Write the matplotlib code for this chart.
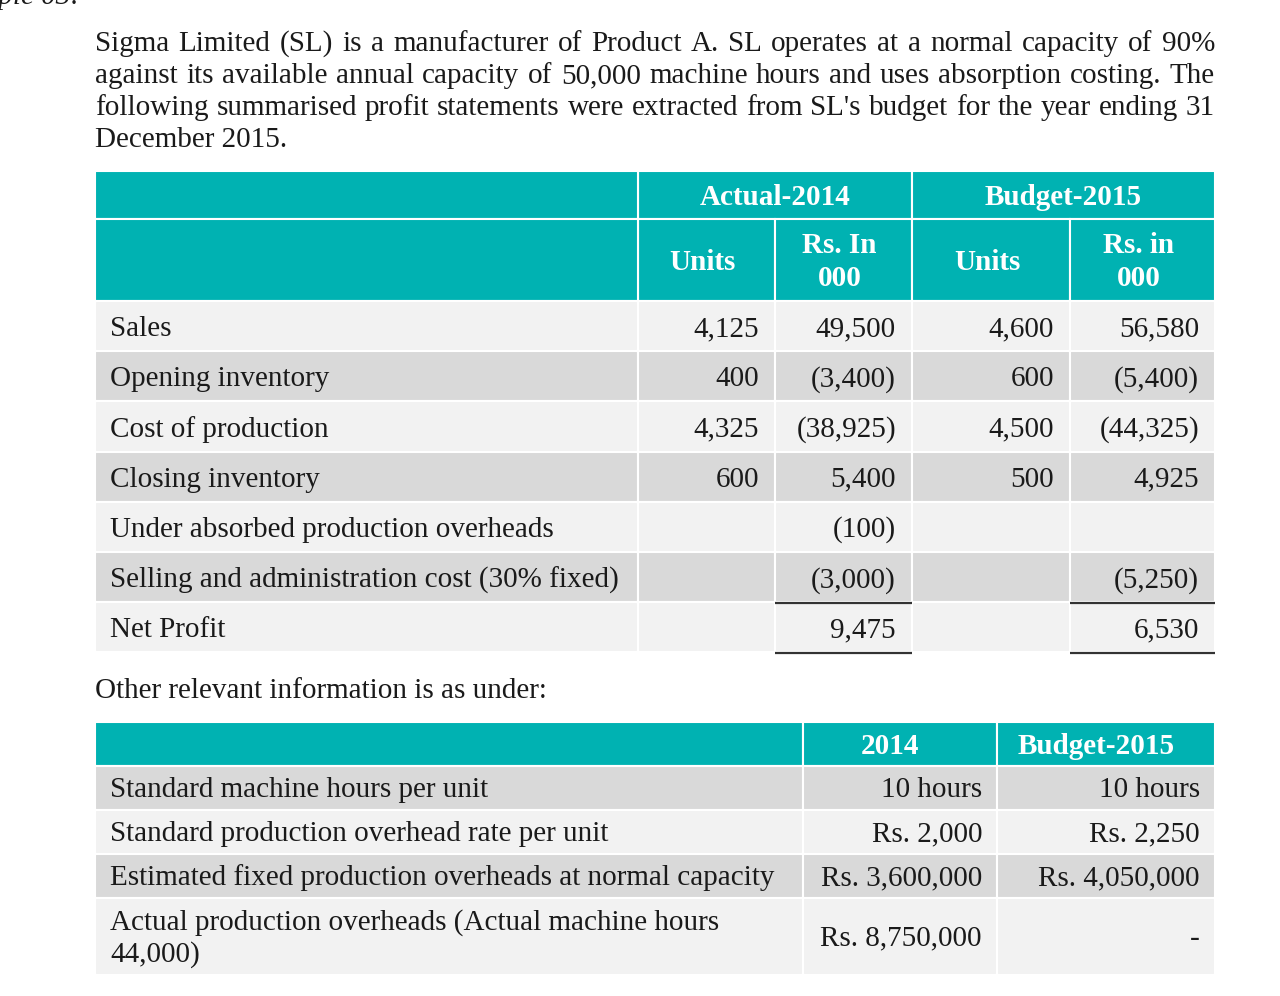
import matplotlib.pyplot as plt
from matplotlib.patches import Rectangle

# paragraph text
intro_lines = [
    "Sigma Limited (SL) is a manufacturer of Product A. SL operates at a normal capacity of 90%",
    "against its available annual capacity of 50,000 machine hours and uses absorption costing. The",
    "following summarised profit statements were extracted from SL's budget for the year ending 31",
    "December 2015.",
]

# profit statement table
row_labels = ["Sales", "Opening inventory", "Cost of production", "Closing inventory",
              "Under absorbed production overheads",
              "Selling and administration cost (30% fixed)", "Net Profit"]
actual_units = ["4,125", "400", "4,325", "600", "", "", ""]
actual_rs = ["49,500", "(3,400)", "(38,925)", "5,400", "(100)", "(3,000)", "9,475"]
budget_units = ["4,600", "600", "4,500", "500", "", "", ""]
budget_rs = ["56,580", "(5,400)", "(44,325)", "4,925", "", "(5,250)", "6,530"]
group_headers = ["Actual-2014", "Budget-2015"]
sub_headers = ["Units", "Rs. In\n000", "Units", "Rs. in\n000"]

# other information table
info_headers = ["2014", "Budget-2015"]
info_labels = ["Standard machine hours per unit",
               "Standard production overhead rate per unit",
               "Estimated fixed production overheads at normal capacity",
               "Actual production overheads (Actual machine hours\n44,000)"]
info_2014 = ["10 hours", "Rs. 2,000", "Rs. 3,600,000", "Rs. 8,750,000"]
info_2015 = ["10 hours", "Rs. 2,250", "Rs. 4,050,000", "-"]

W, H = 1280, 996
FONT = "Liberation Serif"
FS = 21
TEAL = "#00b2b2"
LIGHT = "#f2f2f2"
DARK = "#d9d9d9"
INK = "#1a1a1a"

fig = plt.figure(figsize=(12.8, 9.96), dpi=100)
ax = fig.add_axes([0, 0, 1, 1])
ax.set_xlim(0, W)
ax.set_ylim(H, 0)
ax.axis("off")
renderer = fig.canvas.get_renderer()


def txt(x, y, s, ha="left", va="center", bold=False, color=INK, **kw):
    return ax.text(x, y, s, ha=ha, va=va, fontsize=FS, family=FONT,
                   fontweight="bold" if bold else "normal", color=color, **kw)


def cell(x0, x1, y0, y1, fc):
    ax.add_patch(Rectangle((x0, y0), x1 - x0, y1 - y0, facecolor=fc,
                           edgecolor="white", lw=1.5))


# cut-off heading at the very top
ax.text(80, 4, "Example 03:", ha="right", va="baseline", fontsize=FS,
        family=FONT, style="italic", color=INK)

# justified paragraph
left, right = 95, 1215
line_y = [44, 76, 108, 140]
for i, line in enumerate(intro_lines):
    words = line.split(" ")
    if i == len(intro_lines) - 1:
        txt(left, line_y[i], line)
        continue
    objs = [txt(0, line_y[i], w) for w in words]
    widths = [o.get_window_extent(renderer).width for o in objs]
    gap = (right - left - sum(widths)) / (len(words) - 1)
    x = left
    for o, wd in zip(objs, widths):
        o.set_x(x)
        x += wd + gap

# table 1
cols = [95, 638, 775, 912, 1070, 1215]
h1, h2, h3 = 171, 219, 301
row_h = 50.2
cell(cols[0], cols[5], h1, h3, TEAL)
cell(cols[1], cols[3], h1, h2, TEAL)
cell(cols[3], cols[5], h1, h2, TEAL)
for j in range(5):
    cell(cols[j], cols[j + 1], h2, h3, TEAL)
cell(cols[0], cols[1], h1, h2, TEAL)
cell(cols[0], cols[1], h2, h3, TEAL)

txt((cols[1] + cols[3]) / 2, (h1 + h2) / 2 + 2, group_headers[0], ha="center", bold=True, color="white")
txt((cols[3] + cols[5]) / 2, (h1 + h2) / 2 + 2, group_headers[1], ha="center", bold=True, color="white")
for j, s in enumerate(sub_headers):
    txt((cols[j + 1] + cols[j + 2]) / 2 - 4, (h2 + h3) / 2 + 2, s, ha="center", bold=True,
        color="white", linespacing=1.25)

value_cols = [actual_units, actual_rs, budget_units, budget_rs]
for i, lab in enumerate(row_labels):
    y0 = h3 + i * row_h
    fc = LIGHT if i % 2 == 0 else DARK
    for j in range(5):
        cell(cols[j], cols[j + 1], y0, y0 + row_h, fc)
    yc = y0 + row_h / 2 + 3
    txt(110, yc, lab)
    for j, vals in enumerate(value_cols):
        txt(cols[j + 2] - 16, yc, vals[i], ha="right")

# totals rules
for k in (5, 6):
    y = h3 + (k + 1) * row_h + 1
    for a, b in ((cols[2], cols[3]), (cols[4], cols[5])):
        ax.plot([a, b], [y, y], color="#333333", lw=1.6, solid_capstyle="butt")

txt(95, 691, "Other relevant information is as under:")

# table 2
cols2 = [95, 803, 997, 1215]
rows2 = [722, 766, 810, 854, 898, 975]
cell(cols2[0], cols2[1], rows2[0], rows2[1], TEAL)
cell(cols2[1], cols2[2], rows2[0], rows2[1], TEAL)
cell(cols2[2], cols2[3], rows2[0], rows2[1], TEAL)
txt((cols2[1] + cols2[2]) / 2 - 10, (rows2[0] + rows2[1]) / 2 + 2, info_headers[0], ha="center", bold=True, color="white")
txt((cols2[2] + cols2[3]) / 2 - 10, (rows2[0] + rows2[1]) / 2 + 2, info_headers[1], ha="center", bold=True, color="white")
for i, lab in enumerate(info_labels):
    y0, y1 = rows2[i + 1], rows2[i + 2]
    fc = DARK if i % 2 == 0 else LIGHT
    for j in range(3):
        cell(cols2[j], cols2[j + 1], y0, y1, fc)
    yc = (y0 + y1) / 2 + 2
    txt(110, yc, lab, linespacing=1.25)
    txt(cols2[2] - 15, yc, info_2014[i], ha="right")
    txt(cols2[3] - 15, yc, info_2015[i], ha="right")

fig.savefig("out.png", dpi=100)
